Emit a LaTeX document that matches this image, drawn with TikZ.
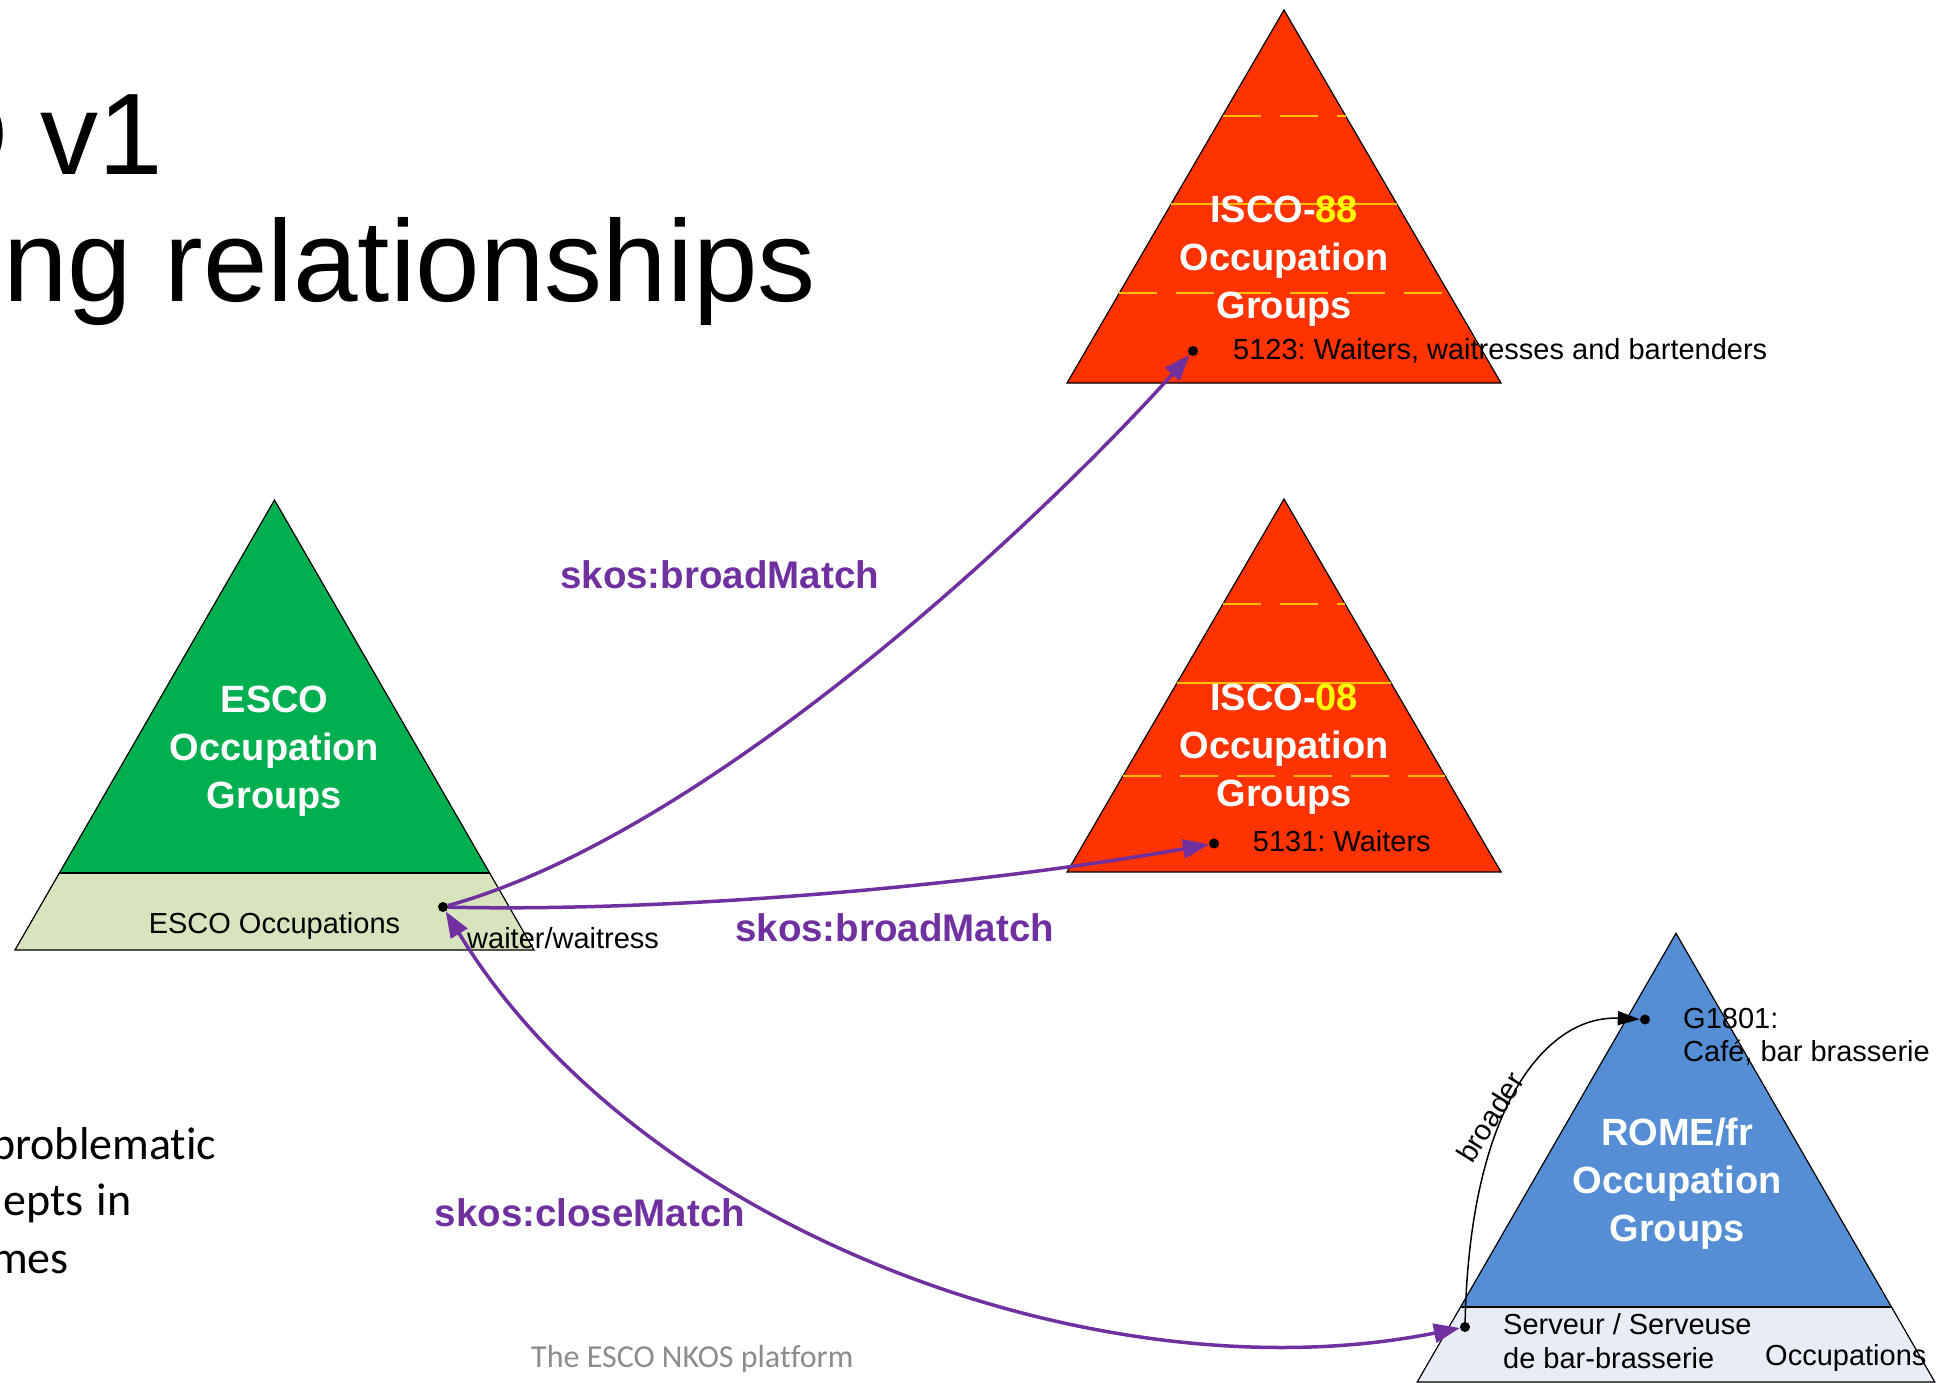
\documentclass[tikz,border=0pt]{standalone}
\usepackage{fontspec}
\setmainfont{Liberation Sans}
\newfontfamily\calibri[Ligatures=NoCommon]{Carlito}
\usetikzlibrary{arrows.meta}
\definecolor{escogreen}{HTML}{00B050}
\definecolor{escoband}{HTML}{D7E4BD}
\definecolor{iscored}{HTML}{FF3300}
\definecolor{romeblue}{HTML}{558ED5}
\definecolor{romeband}{HTML}{E7ECF5}
\definecolor{dashyellow}{HTML}{FFC000}
\definecolor{numyellow}{HTML}{FFFF00}
\definecolor{skospurple}{HTML}{7030A0}
\definecolor{footgrey}{HTML}{8C8C8C}
\frenchspacing
\begin{document}
\begin{tikzpicture}[x=1pt,y=-1pt,
  shapeline/.style={draw=black, line width=1.2pt, line join=miter},
  levelline/.style={draw=dashyellow, line width=2pt, dash pattern=on 38pt off 19pt},
  levelsolid/.style={draw=dashyellow, line width=2pt},
  grouptext/.style={text=white, font=\fontsize{38}{48}\selectfont\bfseries, align=center, anchor=base, inner sep=0pt},
  labeltext/.style={font=\fontsize{29}{33.4}\selectfont, inner sep=0pt, anchor=base west, align=left},
  skoslabel/.style={text=skospurple, font=\fontsize{38.5}{44}\selectfont\bfseries, inner sep=0pt, anchor=base west},
  dotnode/.style={circle, fill=black, minimum size=10pt, inner sep=0pt},
  matcharrow/.style={draw=skospurple, line width=3.5pt, -{Triangle[length=26pt,width=19pt]}},
  closearrow/.style={draw=skospurple, line width=3.5pt, {Triangle[length=26pt,width=19pt]}-{Triangle[length=26pt,width=19pt]}},
  broaderarrow/.style={draw=black, line width=1.5pt, -{Triangle[length=22pt,width=14pt]}},
  titletext/.style={font=\fontsize{116}{126}\selectfont, inner sep=0pt, anchor=base east},
  bullettext/.style={font=\calibri\fontsize{46}{57}\selectfont, inner sep=0pt, anchor=base west}
]
\useasboundingbox (0,0) rectangle (1938,1383);
\clip (0,0) rectangle (1938,1383);
\fill[white] (0,0) rectangle (1938,1383);

% title (cut at the left edge)
\node[titletext] (title1) at (163.5,175) {O v1};
\node[titletext] (title2) at (816,301.7) {ng relationships};

% bullet text (cut at the left edge)
\node[bullettext] (bul1) at (-9,1159) {problematic};
\node[bullettext] (bul2) at (3,1215) {epts\hspace{3pt} in};
\node[bullettext] (bul3) at (-9,1273) {mes};

% ESCO pyramid
\path[shapeline, fill=escogreen] (274.5,500) -- (59.2,873.3) -- (489.8,873.3) -- cycle;
\path[shapeline, fill=escoband] (59.2,873.3) -- (489.8,873.3) -- (534,950) -- (15,950) -- cycle;
\draw[line width=2.2pt] (59.2,873.3) -- (489.8,873.3);
\node[grouptext] (escotxt) at (274.5,808) {ESCO\\Occupation\\Groups};
\node[font=\fontsize{29}{33}\selectfont, inner sep=0pt, anchor=base] (escoocc) at (274.5,933) {ESCO Occupations};

% ISCO-88 pyramid
\path[shapeline, fill=iscored] (1284,10) -- (1067,383) -- (1501,383) -- cycle;
\draw[levelline] (1222.5,115.7) -- (1345.5,115.7);
\draw[levelsolid] (1171.1,204) -- (1396.9,204);
\draw[levelline] (1119.2,293.3) -- (1448.8,293.3);
\node[grouptext] (isco88txt) at (1284,318) {ISCO-\textcolor{numyellow}{88}\\Occupation\\Groups};

% ISCO-08 pyramid
\path[shapeline, fill=iscored] (1284,499) -- (1067,872) -- (1501,872) -- cycle;
\draw[levelline] (1222.7,604.3) -- (1345.3,604.3);
\draw[levelsolid] (1176.8,683.3) -- (1391.2,683.3);
\draw[levelline] (1122.8,776) -- (1445.2,776);
\node[grouptext] (isco08txt) at (1284,806.7) {ISCO-\textcolor{numyellow}{08}\\Occupation\\Groups};

% ROME pyramid
\path[shapeline, fill=romeblue] (1676,933.3) -- (1460.7,1306.7) -- (1891.3,1306.7) -- cycle;
\path[shapeline, fill=romeband] (1460.7,1306.7) -- (1891.3,1306.7) -- (1934.8,1382) -- (1417.2,1382) -- cycle;
\draw[line width=2.2pt] (1460.7,1306.7) -- (1891.3,1306.7);
\node[grouptext] (rometxt) at (1677,1241.7) {ROME/fr\\Occupation\\Groups};

% concept dots
\node[dotnode] (escodot) at (443,907) {};
\node[dotnode] (d5123) at (1193,351) {};
\node[dotnode] (d5131) at (1214,843.5) {};
\node[dotnode] (dg1801) at (1645,1019.5) {};
\node[dotnode] (dserv) at (1465,1327) {};

% concept labels
\node[labeltext] (t5123) at (1233,359.5) {5123: Waiters, waitresses and bartenders};
\node[labeltext] (t5131) at (1252.7,851.7) {5131: Waiters};
\node[labeltext] (tg1801) at (1683,1061.7) {G1801:\\Café, bar brasserie};
\node[labeltext] (tserv) at (1503,1368.3) {Serveur / Serveuse\\de bar-brasserie};
\node[labeltext] (tromeocc) at (1765,1365) {Occupations};
\node[labeltext] (twaiter) at (467,948) {waiter/waitress};

% relationships
\draw[matcharrow] (escodot) .. controls (720,830) and (1060,500) .. (d5123);
\draw[matcharrow] (escodot) .. controls (650,912) and (950,890) .. (d5131);
\draw[closearrow] (dserv) .. controls (1100,1400) and (640,1230) .. (escodot);
\draw[broaderarrow] (dserv) .. controls (1470,1100) and (1550,1015) .. (dg1801);

% relationship labels
\node[skoslabel] (lbroad1) at (560,588.3) {skos:broadMatch};
\node[skoslabel] (lbroad2) at (735,941.7) {skos:broadMatch};
\node[skoslabel] (lclose) at (434.6,1226.7) {skos:closeMatch};
\node[font=\fontsize{29}{33}\selectfont, inner sep=0pt, rotate=58] (lbroader) at (1490,1117) {broader};

% footer
\node[font=\calibri\fontsize{32}{36}\selectfont, text=footgrey, inner sep=0pt, anchor=base west] (footer) at (531,1367) {The ESCO NKOS platform};
\end{tikzpicture}
\end{document}
